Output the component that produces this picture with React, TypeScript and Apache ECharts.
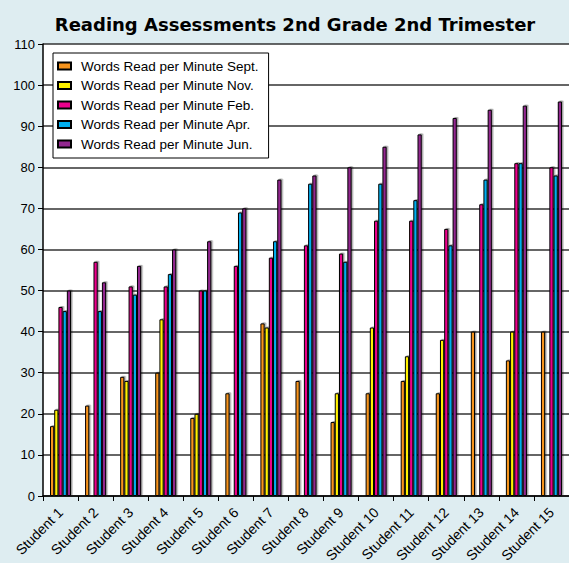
import React, { useEffect, useRef } from "react";
import * as echarts from "echarts";

const title = "Reading Assessments 2nd Grade 2nd Trimester";
const categories = [
  "Student 1", "Student 2", "Student 3", "Student 4", "Student 5",
  "Student 6", "Student 7", "Student 8", "Student 9", "Student 10",
  "Student 11", "Student 12", "Student 13", "Student 14", "Student 15",
];
const sept = [17, 22, 29, 30, 19, 25, 42, 28, 18, 25, 28, 25, 40, 33, 40];
const nov = [21, null, 28, 43, 20, null, 41, null, 25, 41, 34, 38, null, 40, null];
const feb = [46, 57, 51, 51, 50, 56, 58, 61, 59, 67, 67, 65, 71, 81, 80];
const apr = [45, 45, 49, 54, 50, 69, 62, 76, 57, 76, 72, 61, 77, 81, 78];
const jun = [50, 52, 56, 60, 62, 70, 77, 78, 80, 85, 88, 92, 94, 95, 96];

const seriesNames = [
  "Words Read per Minute Sept.",
  "Words Read per Minute Nov.",
  "Words Read per Minute Feb.",
  "Words Read per Minute Apr.",
  "Words Read per Minute Jun.",
];
const seriesData = [sept, nov, feb, apr, jun];
const colors = ["#f7941d", "#fff200", "#ec008c", "#00aeef", "#92278f"];

const FONT = "Liberation Sans, Arial, Helvetica, sans-serif";

export default function App() {
  const ref = useRef<HTMLDivElement>(null);
  useEffect(() => {
    if (!ref.current) return;
    const chart = echarts.init(ref.current, null, { renderer: "svg" });
    chart.setOption({
      animation: false,
      backgroundColor: "#deedf1",
      textStyle: { fontFamily: FONT },
      title: {
        text: title,
        left: 290,
        textAlign: "center",
        top: 10,
        textStyle: { fontSize: 18, fontWeight: "bold", color: "#000", fontFamily: "DejaVu Sans, sans-serif" },
      },
      legend: {
        orient: "vertical",
        left: 53,
        top: 53,
        backgroundColor: "#fff",
        borderColor: "#000",
        borderWidth: 1,
        borderRadius: 0,
        padding: [6, 10, 7, 4],
        itemWidth: 13,
        itemHeight: 7,
        itemGap: 5.5,
        icon: "rect",
        textStyle: { fontSize: 13.5, color: "#000", fontFamily: FONT, padding: [0, 0, 0, 5] },
        data: seriesNames,
      },
      grid: {
        left: 43, right: 0, top: 44, bottom: 67,
        backgroundColor: "#fff", show: true, borderWidth: 0,
        outerBoundsMode: "none", containLabel: false,
      },
      xAxis: {
        type: "category",
        data: categories,
        axisLine: { show: true, lineStyle: { color: "#000", width: 1.5 } },
        axisTick: { show: true, length: 5, lineStyle: { color: "#000" } },
        axisLabel: { rotate: 45, fontSize: 14, color: "#000", margin: 14, fontFamily: FONT },
      },
      yAxis: {
        type: "value",
        min: 0,
        max: 110,
        interval: 10,
        axisLine: { show: true, lineStyle: { color: "#000", width: 1.5 } },
        axisTick: { show: true, length: 5, lineStyle: { color: "#000" } },
        axisLabel: { fontSize: 13, color: "#000", margin: 8, fontFamily: FONT },
        splitLine: { show: true, lineStyle: { color: "#333", width: 1.5 } },
      },
      series: seriesNames.map((name, i) => ({
        name,
        type: "bar",
        data: seriesData[i],
        barGap: "0%",
        barCategoryGap: "40%",
        itemStyle: {
          color: colors[i],
          borderColor: "#000",
          borderWidth: 1,
          shadowColor: "rgba(0,0,0,0.35)",
          shadowOffsetX: 1.5,
          shadowOffsetY: -1,
          shadowBlur: 0,
        },
      })),
    });
    return () => chart.dispose();
  }, []);
  return <div ref={ref} style={{ width: 569, height: 563, position: "absolute", left: 0, top: 0 }} />;
}
